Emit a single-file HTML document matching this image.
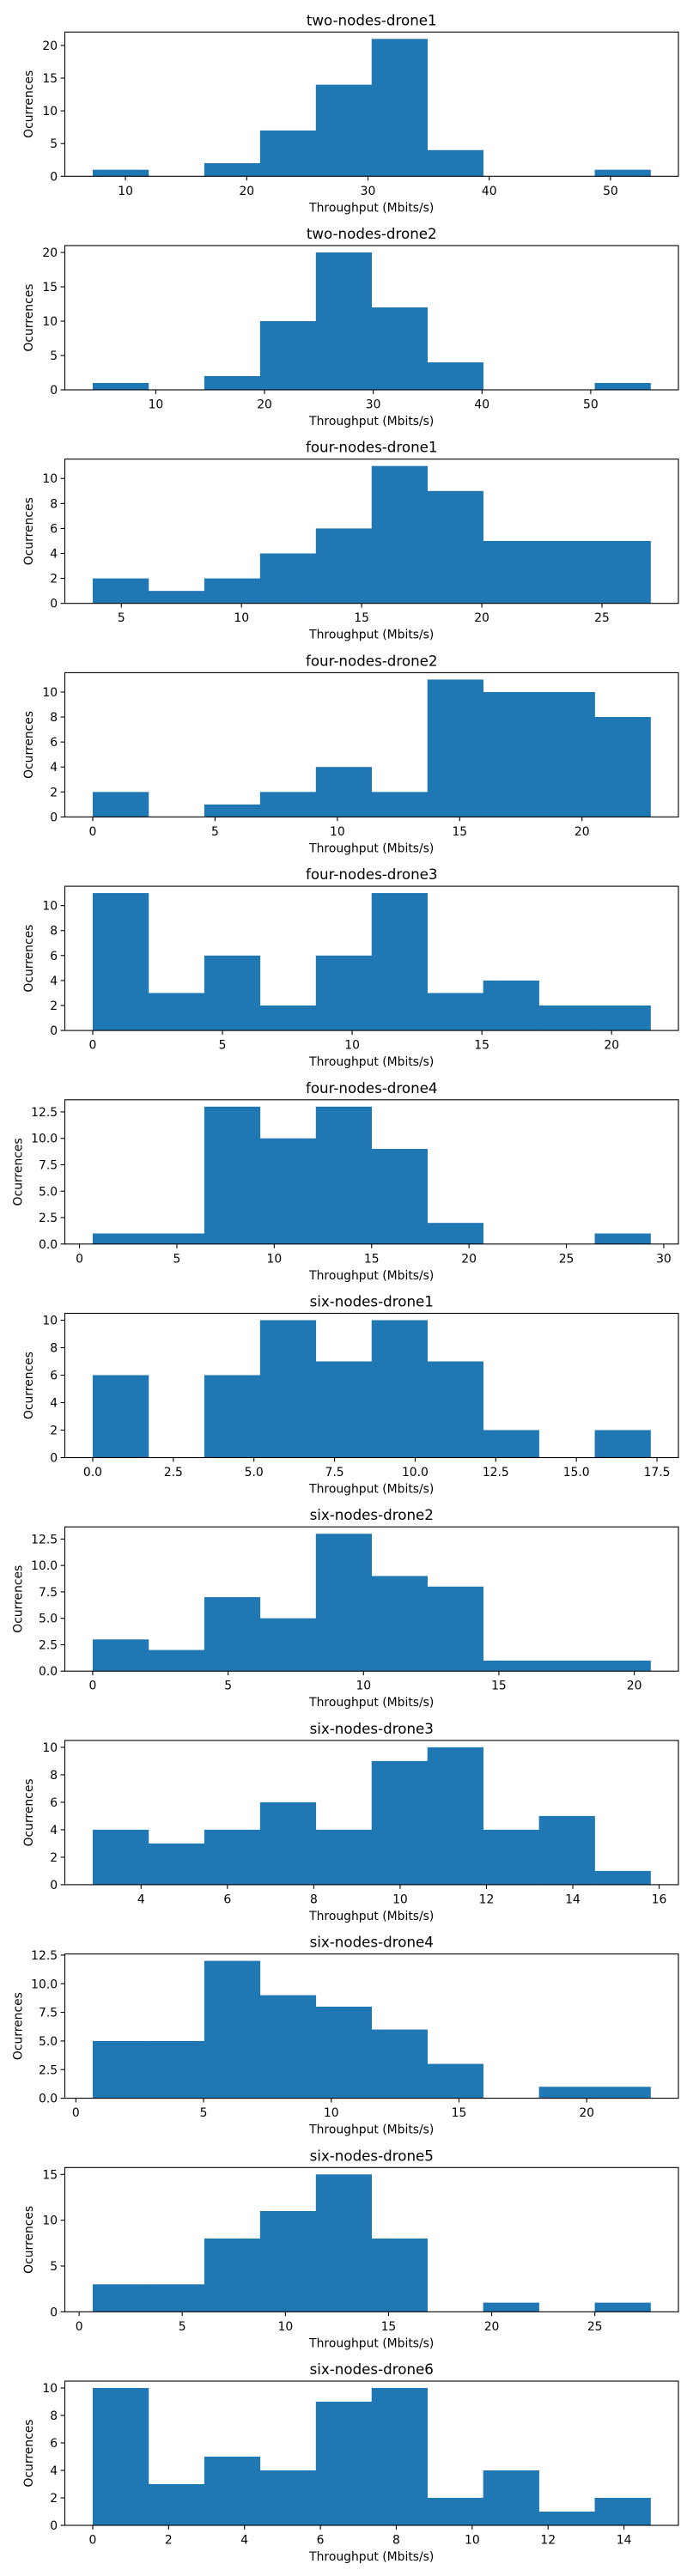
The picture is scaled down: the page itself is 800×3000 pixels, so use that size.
<!DOCTYPE html>
<html><head><meta charset="utf-8"><style>
html,body{margin:0;padding:0;background:#fff;}
svg{display:block;}
text{font-family:"DejaVu Sans","Liberation Sans",sans-serif;fill:#000;}
</style></head><body>
<svg id="chart" width="800" height="3000" viewBox="0 0 800 3000" xmlns="http://www.w3.org/2000/svg"></svg>
<script>
const titles = ["two-nodes-drone1","two-nodes-drone2","four-nodes-drone1","four-nodes-drone2","four-nodes-drone3","four-nodes-drone4","six-nodes-drone1","six-nodes-drone2","six-nodes-drone3","six-nodes-drone4","six-nodes-drone5","six-nodes-drone6"];
const dataMin = [7.3, 4.2, 3.81, 0, 0, 0.68, 0, 0, 2.88, 0.66, 0.66, 0];
const dataMax = [53.3, 55.5, 27.02, 22.8, 21.5, 29.32, 17.3, 20.6, 15.8, 22.5, 27.7, 14.7];
const counts = [
  [1,0,2,7,14,21,4,0,0,1],
  [1,0,2,10,20,12,4,0,0,1],
  [2,1,2,4,6,11,9,5,5,5],
  [2,0,1,2,4,2,11,10,10,8],
  [11,3,6,2,6,11,3,4,2,2],
  [1,1,13,10,13,9,2,0,0,1],
  [6,0,6,10,7,10,7,2,0,2],
  [3,2,7,5,13,9,8,1,1,1],
  [4,3,4,6,4,9,10,4,5,1],
  [5,5,12,9,8,6,3,0,1,1],
  [3,3,8,11,15,8,0,1,0,1],
  [10,3,5,4,9,10,2,4,1,2]
];
const xTicks = [
  [10,20,30,40,50],[10,20,30,40,50],[5,10,15,20,25],[0,5,10,15,20],[0,5,10,15,20],
  [0,5,10,15,20,25,30],[0,2.5,5,7.5,10,12.5,15,17.5],[0,5,10,15,20],[4,6,8,10,12,14,16],
  [0,5,10,15,20],[0,5,10,15,20,25],[0,2,4,6,8,10,12,14]
];
const xTickLabels = [
  ["10","20","30","40","50"],["10","20","30","40","50"],["5","10","15","20","25"],["0","5","10","15","20"],["0","5","10","15","20"],
  ["0","5","10","15","20","25","30"],["0.0","2.5","5.0","7.5","10.0","12.5","15.0","17.5"],["0","5","10","15","20"],["4","6","8","10","12","14","16"],
  ["0","5","10","15","20"],["0","5","10","15","20","25"],["0","2","4","6","8","10","12","14"]
];
const yTicks = [
  [0,5,10,15,20],[0,5,10,15,20],[0,2,4,6,8,10],[0,2,4,6,8,10],[0,2,4,6,8,10],
  [0,2.5,5,7.5,10,12.5],[0,2,4,6,8,10],[0,2.5,5,7.5,10,12.5],[0,2,4,6,8,10],
  [0,2.5,5,7.5,10,12.5],[0,5,10,15],[0,2,4,6,8,10]
];
const yTickLabels = [
  ["0","5","10","15","20"],["0","5","10","15","20"],["0","2","4","6","8","10"],["0","2","4","6","8","10"],["0","2","4","6","8","10"],
  ["0.0","2.5","5.0","7.5","10.0","12.5"],["0","2","4","6","8","10"],["0.0","2.5","5.0","7.5","10.0","12.5"],["0","2","4","6","8","10"],
  ["0.0","2.5","5.0","7.5","10.0","12.5"],["0","5","10","15"],["0","2","4","6","8","10"]
];

const svg = document.getElementById('chart');
const NS = 'http://www.w3.org/2000/svg';
function mk(tag, attrs, parent){ const e=document.createElementNS(NS,tag); for(const k in attrs) e.setAttribute(k,attrs[k]); parent.appendChild(e); return e; }

const AX_L = 75.5, AX_R = 790, AX_H = 168, TOP0 = 37.3, STEP = 248.7;

for (let p = 0; p < titles.length; p++) {
  const top = TOP0 + p*STEP, bottom = top + AX_H;
  const g = mk('g', {}, svg);
  
  
  const lo = dataMin[p], hi = dataMax[p], r = hi - lo;
  const x0 = lo - 0.05*r, x1 = hi + 0.05*r;
  const ymax = Math.max(...counts[p]) * 1.05;
  const X = v => AX_L + (v - x0) / (x1 - x0) * (AX_R - AX_L);
  const Y = v => bottom - v / ymax * AX_H;

  const t = mk('text', {x:(AX_L+AX_R)/2, y:top-8, 'text-anchor':'middle', 'font-size':'16.7'}, g);
  t.textContent = titles[p];
  
  

  const n = counts[p].length, bw = r / n;
  counts[p].forEach((c, i) => {
    if (c <= 0) return;
    const xa = X(lo + i*bw), xb = X(lo + (i+1)*bw);
    const b = mk('rect', {x:xa, y:Y(c), width:xb-xa+0.3, height:bottom-Y(c), fill:'#1f77b4'}, g);
    
    
  });

  const frame = mk('rect', {x:AX_L, y:top, width:AX_R-AX_L, height:AX_H, fill:'none', stroke:'#000', 'stroke-width':'1.1'}, g);
  
  

  xTicks[p].forEach((v, i) => {
    const x = X(v);
    mk('line', {x1:x, x2:x, y1:bottom, y2:bottom+4.9, stroke:'#000', 'stroke-width':'1.1'}, g);
    const tl = mk('text', {x:x, y:bottom+21.5, 'text-anchor':'middle', 'font-size':'13.9'}, g);
    tl.textContent = xTickLabels[p][i];
    
    
  });
  yTicks[p].forEach((v, i) => {
    const y = Y(v);
    mk('line', {x1:AX_L-4.9, x2:AX_L, y1:y, y2:y, stroke:'#000', 'stroke-width':'1.1'}, g);
    const tl = mk('text', {x:AX_L-8.4, y:y+5, 'text-anchor':'end', 'font-size':'13.9'}, g);
    tl.textContent = yTickLabels[p][i];
    
    
  });

  const xl = mk('text', {x:(AX_L+AX_R)/2, y:bottom+41, 'text-anchor':'middle', 'font-size':'13.9'}, g);
  xl.textContent = 'Throughput (Mbits/s)';
  
  

  const dec = yTickLabels[p].some(s => s.indexOf('.') >= 0);
  const lx = dec ? 21.5 : 34;
  const yl = mk('text', {x:lx, y:(top+bottom)/2, 'text-anchor':'middle', 'font-size':'13.9', 'dominant-baseline':'central', transform:'rotate(-90 '+lx+' '+((top+bottom)/2)+')'}, g);
  yl.textContent = 'Ocurrences';
  
  
}
</script>
</body></html>
